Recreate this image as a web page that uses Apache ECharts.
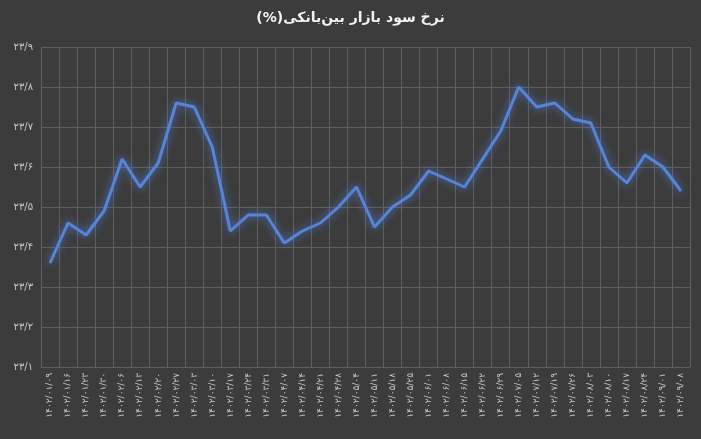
<!DOCTYPE html>
<html>
<head>
<meta charset="utf-8">
<script src="https://cdn.jsdelivr.net/npm/echarts@6/dist/echarts.min.js"></script>
<style>
  html, body { margin: 0; padding: 0; background: #3c3c3c; }
  #main-chart { width: 701px; height: 439px; }
</style>
</head>
<body>
<div id="main-chart"></div>
<script>
// ---- data ----
const dates = [
    '1402/01/09', '1402/01/16', '1402/01/23', '1402/01/30', '1402/02/06', '1402/02/13',
    '1402/02/20', '1402/02/27', '1402/03/03', '1402/03/10', '1402/03/17', '1402/03/24',
    '1402/03/31', '1402/04/07', '1402/04/14', '1402/04/21', '1402/04/28', '1402/05/04',
    '1402/05/11', '1402/05/18', '1402/05/25', '1402/06/01', '1402/06/08', '1402/06/15',
    '1402/06/22', '1402/06/29', '1402/07/05', '1402/07/12', '1402/07/19', '1402/07/26',
    '1402/08/03', '1402/08/10', '1402/08/17', '1402/08/24', '1402/09/01', '1402/09/08'
];
const rates = [
    23.36, 23.46, 23.43, 23.49, 23.62, 23.55, 23.61, 23.76, 23.75, 23.65, 23.44, 23.48,
    23.48, 23.41, 23.44, 23.46, 23.50, 23.55, 23.45, 23.50, 23.53, 23.59, 23.57, 23.55,
    23.62, 23.69, 23.80, 23.75, 23.76, 23.72, 23.71, 23.60, 23.56, 23.63, 23.60, 23.54
];
const yTicks = [23.1, 23.2, 23.3, 23.4, 23.5, 23.6, 23.7, 23.8, 23.9];
const titleText = '(%)نرخ سود بازار بین‌بانکی';

// label placement (style only)
const labelPos = [
    'br', 'br', 'br', 'br', 'r', 'r', 'r', 't', 'r', 'r', 'b', 't',
    'r', 'br', 'br', 'br', 'br', 'r', 'b', 'br', 'br', 't', 'tl', 'br',
    'br', 'tl', 't', 'b', 't', 't', 'r', 'l', 'b', 't', 'tr', 'r'
];
const posMap = {
    r:  { position: 'right', offset: [2, 0] },
    br: { position: 'right', offset: [2, 12] },
    b:  { position: 'bottom', offset: [0, 4] },
    t:  { position: 'top', offset: [0, -2] },
    tl: { position: 'left', offset: [-2, -12] },
    tr: { position: 'right', offset: [2, -12] },
    l:  { position: 'left', offset: [-2, 0] }
};

// Persian digits, slash as decimal mark
function fa(s) {
    return String(s).replace(/\./g, '/').replace(/[0-9]/g, d => '۰۱۲۳۴۵۶۷۸۹'[d]);
}

const chart = echarts.init(document.getElementById('main-chart'));
chart.setOption({
    backgroundColor: '#3c3c3c',
    animation: false,
    title: {
        text: titleText,
        left: 'center',
        top: 6,
        textStyle: { color: '#f2f2f2', fontSize: 14, fontWeight: 'bold', fontFamily: 'DejaVu Sans' }
    },
    grid: { left: 41, right: 11, top: 47, bottom: 72 },
    xAxis: {
        type: 'category',
        data: dates,
        boundaryGap: true,
        axisLine: { show: false },
        axisTick: { show: false },
        axisLabel: {
            rotate: 90, interval: 0, color: '#c8c8c8', fontSize: 9, margin: 6,
            fontFamily: 'DejaVu Sans',
            formatter: v => fa(v)
        },
        splitLine: { show: true, interval: 0, lineStyle: { color: '#5e5e5e', width: 1 } }
    },
    yAxis: {
        type: 'value',
        min: yTicks[0],
        max: yTicks[yTicks.length - 1],
        interval: 0.1,
        axisLine: { show: false },
        axisTick: { show: false },
        axisLabel: {
            color: '#c8c8c8', fontSize: 10, fontFamily: 'DejaVu Sans',
            formatter: v => fa(Math.round(v * 10) / 10)
        },
        splitLine: { lineStyle: { color: '#5e5e5e', width: 1 } }
    },
    series: [{
        type: 'line',
        data: rates.map((v, i) => ({
            value: v,
            label: posMap[labelPos[i]]
        })),
        symbol: 'circle',
        symbolSize: 1,
        showSymbol: true,
        itemStyle: { color: '#5585d8', opacity: 0 },
        lineStyle: {
            color: '#5585d8', width: 3,
            shadowColor: 'rgba(90,140,255,0.8)', shadowBlur: 8
        },
        label: {
            show: true,
            color: '#d9d9d9',
            fontSize: 10,
            fontFamily: 'DejaVu Sans',
            formatter: p => fa(p.value)
        },
        labelLayout: { hideOverlap: false }
    }]
});
</script>
</body>
</html>
